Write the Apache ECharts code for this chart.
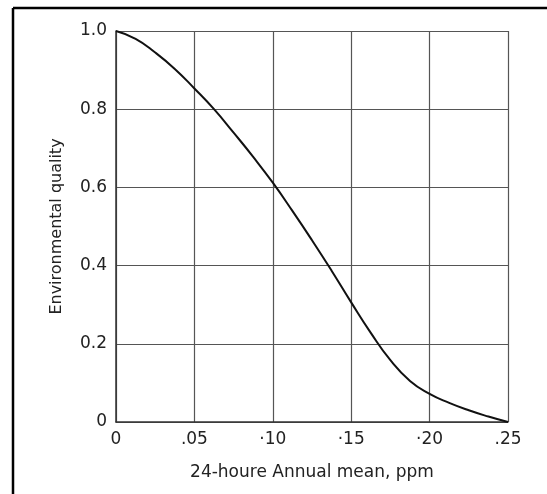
<!DOCTYPE html>
<html>
<head>
<meta charset="utf-8">
<script src="https://cdn.jsdelivr.net/npm/echarts@6/dist/echarts.min.js"></script>
<style>
    html, body { margin: 0; padding: 0; background: #fff; }
    #main { width: 547px; height: 494px; }
</style>
</head>
<body>
<div id="main"></div>
<script>
// values
var concentration = [0, 0.0125, 0.025, 0.0375, 0.05, 0.0625, 0.075, 0.0875, 0.10, 0.1125, 0.125,
    0.1375, 0.15, 0.1625, 0.175, 0.1875, 0.20, 0.2125, 0.225, 0.2375, 0.25];
var quality = [1.0, 0.98, 0.945, 0.903, 0.853, 0.80, 0.74, 0.678, 0.612, 0.54, 0.465,
    0.387, 0.306, 0.228, 0.158, 0.105, 0.072, 0.049, 0.03, 0.014, 0.0];
var xTickLabels = ['0', '.05', '·10', '·15', '·20', '.25'];
var yTickLabels = ['0', '0.2', '0.4', '0.6', '0.8', '1.0'];

var points = concentration.map(function (x, i) { return [x, quality[i]]; });

var myChart = echarts.init(document.getElementById('main'));
var font = 'DejaVu Sans';

var option = {
    backgroundColor: '#fff',
    animation: false,
    grid: {
        left: 116,
        top: 31,
        right: 39,
        bottom: 72
    },
    // frame of the scanned figure (top and left edge only)
    graphic: [
        { type: 'line', shape: { x1: 13, y1: 8, x2: 547, y2: 8 }, style: { stroke: '#000', lineWidth: 2.5 } },
        { type: 'line', shape: { x1: 13, y1: 8, x2: 13, y2: 494 }, style: { stroke: '#000', lineWidth: 2.5 } }
    ],
    xAxis: {
        type: 'value',
        min: 0,
        max: 0.25,
        interval: 0.05,
        name: '24-houre Annual mean, ppm',
        nameLocation: 'middle',
        nameGap: 42,
        nameTextStyle: { fontFamily: font, fontSize: 17, color: '#222' },
        axisLine: { show: true, lineStyle: { color: '#333', width: 1.5 } },
        axisTick: { show: false },
        axisLabel: {
            margin: 9,
            fontFamily: font,
            fontSize: 17,
            color: '#222',
            formatter: function (value, index) { return xTickLabels[index]; }
        },
        splitLine: { show: true, lineStyle: { color: '#555', width: 1.2 } }
    },
    yAxis: {
        type: 'value',
        min: 0,
        max: 1,
        interval: 0.2,
        name: 'Environmental quality',
        nameLocation: 'middle',
        nameGap: 51,
        nameTextStyle: { fontFamily: font, fontSize: 16, color: '#222' },
        axisLine: { show: true, lineStyle: { color: '#333', width: 1.5 } },
        axisTick: { show: false },
        axisLabel: {
            margin: 9,
            fontFamily: font,
            fontSize: 17,
            color: '#222',
            formatter: function (value, index) { return yTickLabels[index]; }
        },
        splitLine: { show: true, lineStyle: { color: '#555', width: 1.2 } }
    },
    series: [
        {
            type: 'line',
            data: points,
            smooth: true,
            showSymbol: false,
            lineStyle: { color: '#111', width: 2 }
        }
    ]
};
option && myChart.setOption(option);
</script>
</body>
</html>
